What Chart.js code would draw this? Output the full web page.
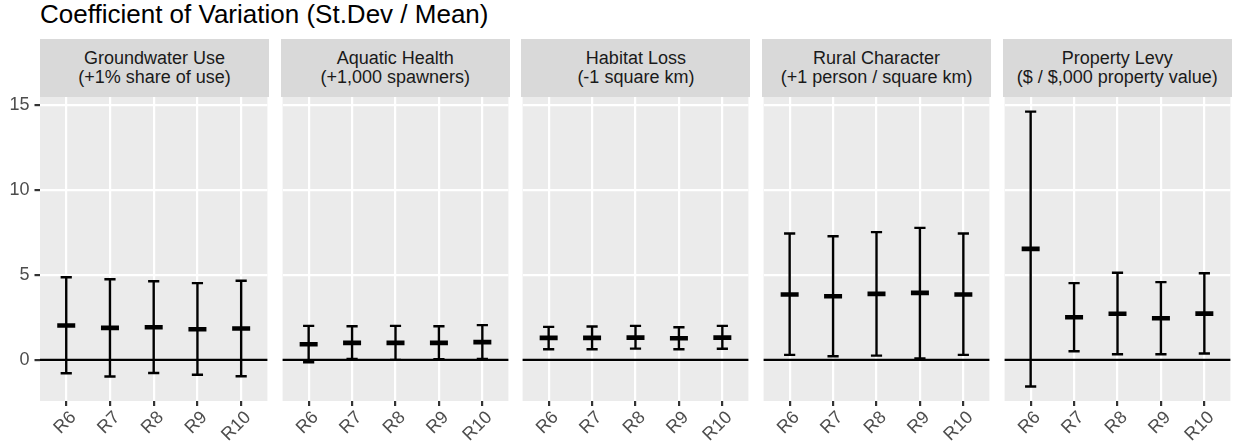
<!DOCTYPE html>
<html>
<head>
<meta charset="utf-8">
<script src="https://cdn.jsdelivr.net/npm/chart.js@4"></script>
<style>
  html, body { margin: 0; padding: 0; background: #ffffff; }
  body { width: 1233px; height: 448px; position: relative; overflow: hidden;
         font-family: "Liberation Sans", Arial, sans-serif; }
  #title { position: absolute; left: 40px; top: 1px; font-size: 26px; line-height: 26px;
           color: #000000; white-space: nowrap; }
  .strip { position: absolute; top: 39px; height: 58px; background: #D9D9D9; color: #1A1A1A;
           font-size: 18px; line-height: 19px; display: flex; align-items: center;
           justify-content: center; text-align: center; white-space: nowrap; }
  .wrap { position: absolute; }
  canvas { display: block; }
</style>
</head>
<body>
<div id="title">Coefficient of Variation (St.Dev / Mean)</div>
<div id="strips"></div>
<div id="charts"></div>
<script>
const categories = ['R6', 'R7', 'R8', 'R9', 'R10'];
const panelTitles = ['Groundwater Use', 'Aquatic Health', 'Habitat Loss', 'Rural Character', 'Property Levy'];
const panelUnits = ['(+1% share of use)', '(+1,000 spawners)', '(-1 square km)', '(+1 person / square km)', '($ / $,000 property value)'];
const yTicks = [0, 5, 10, 15];

const groundwaterMean = [2.02, 1.88, 1.92, 1.80, 1.84];
const groundwaterLow  = [-0.79, -0.98, -0.77, -0.88, -0.96];
const groundwaterHigh = [4.86, 4.74, 4.62, 4.51, 4.65];

const aquaticMean = [0.92, 1.00, 1.00, 1.00, 1.04];
const aquaticLow  = [-0.14, 0.06, 0.00, 0.04, 0.06];
const aquaticHigh = [2.00, 1.98, 2.00, 1.98, 2.04];

const habitatMean = [1.29, 1.29, 1.31, 1.27, 1.31];
const habitatLow  = [0.62, 0.62, 0.66, 0.62, 0.65];
const habitatHigh = [1.94, 1.96, 2.00, 1.92, 2.00];

const ruralMean = [3.84, 3.74, 3.88, 3.94, 3.84];
const ruralLow  = [0.29, 0.21, 0.25, 0.08, 0.29];
const ruralHigh = [7.43, 7.27, 7.51, 7.76, 7.43];

const levyMean = [6.53, 2.51, 2.71, 2.45, 2.72];
const levyLow  = [-1.57, 0.51, 0.33, 0.33, 0.37];
const levyHigh = [14.60, 4.51, 5.12, 4.57, 5.09];

const panelMeans = [groundwaterMean, aquaticMean, habitatMean, ruralMean, levyMean];
const panelLows  = [groundwaterLow, aquaticLow, habitatLow, ruralLow, levyLow];
const panelHighs = [groundwaterHigh, aquaticHigh, habitatHigh, ruralHigh, levyHigh];

Chart.defaults.font.family = '"Liberation Sans", Arial, sans-serif';
Chart.defaults.animation = false;

// layout constants
const PANEL_W = 229;
const PANEL_PITCH = 240.7;
const PANEL_LEFT0 = 40;
const PANEL_TOP = 97;
const PANEL_BOTTOM = 401;
const PAGE_H = 448;
const EXTRA_TOP = 30;
const SIDE_PAD = 12;
const Y_MIN = -2.42, Y_MAX = 15.46;
const X_MIN = -0.6, X_MAX = categories.length - 1 + 0.6;

const bgPlugin = {
  id: 'panelBg',
  beforeDraw(chart) {
    const a = chart.chartArea, ctx = chart.ctx;
    ctx.save();
    ctx.fillStyle = '#EBEBEB';
    ctx.fillRect(a.left, a.top, a.right - a.left, a.bottom - a.top);
    ctx.restore();
  }
};
const zeroLinePlugin = {
  id: 'zeroLine',
  beforeDatasetsDraw(chart) {
    const a = chart.chartArea, ctx = chart.ctx;
    const y = chart.scales.y.getPixelForValue(0);
    ctx.save();
    ctx.strokeStyle = '#000000';
    ctx.lineWidth = 2.2;
    ctx.beginPath();
    ctx.moveTo(a.left, y);
    ctx.lineTo(a.right, y);
    ctx.stroke();
    ctx.restore();
  }
};

const stripsEl = document.getElementById('strips');
const chartsEl = document.getElementById('charts');

for (let p = 0; p < panelTitles.length; p++) {
  const left = PANEL_LEFT0 + p * PANEL_PITCH;
  const strip = document.createElement('div');
  strip.className = 'strip';
  strip.style.left = left + 'px';
  strip.style.width = PANEL_W + 'px';
  strip.innerHTML = '<div>' + panelTitles[p] + '<br>' + panelUnits[p] + '</div>';
  stripsEl.appendChild(strip);

  const first = p === 0;
  const yAxisW = first ? 40 : 0;
  const padLeft = first ? 0 : SIDE_PAD;
  const canvasLeft = left - yAxisW - padLeft;
  const canvasW = yAxisW + padLeft + PANEL_W + SIDE_PAD;
  const canvasTop = PANEL_TOP - EXTRA_TOP;
  const canvasH = PAGE_H - canvasTop;

  const wrap = document.createElement('div');
  wrap.className = 'wrap';
  wrap.style.left = canvasLeft + 'px';
  wrap.style.top = canvasTop + 'px';
  const canvas = document.createElement('canvas');
  canvas.width = Math.round(canvasW);
  canvas.height = canvasH;
  canvas.style.width = Math.round(canvasW) + 'px';
  canvas.style.height = canvasH + 'px';
  wrap.appendChild(canvas);
  chartsEl.appendChild(wrap);

  const means = panelMeans[p], lows = panelLows[p], highs = panelHighs[p];
  const barData = [];
  const capData = [];
  const meanData = [];
  categories.forEach((c, i) => {
    barData.push({x: i, y: lows[i]}, {x: i, y: highs[i]}, {x: i, y: null});
    capData.push({x: i, y: lows[i]}, {x: i, y: highs[i]});
    meanData.push({x: i, y: means[i]});
  });

  new Chart(canvas, {
    type: 'scatter',
    data: {
      datasets: [
        { type: 'scatter', data: meanData, pointStyle: 'line', radius: 9, hoverRadius: 9,
          borderColor: '#000000', backgroundColor: '#000000', borderWidth: 4.6, order: 0 },
        { type: 'scatter', data: capData, pointStyle: 'line', radius: 5.6, hoverRadius: 5.6,
          borderColor: '#000000', backgroundColor: '#000000', borderWidth: 2.4, order: 1 },
        { type: 'line', data: barData, showLine: true, spanGaps: false, pointRadius: 0,
          borderColor: '#000000', borderWidth: 2.4, borderCapStyle: 'butt', order: 2 }
      ]
    },
    options: {
      responsive: false,
      maintainAspectRatio: false,
      animation: false,
      events: [],
      layout: { padding: { top: EXTRA_TOP, left: padLeft, right: SIDE_PAD, bottom: 0 } },
      plugins: { legend: { display: false }, tooltip: { enabled: false }, title: { display: false } },
      scales: {
        x: {
          type: 'linear', min: X_MIN, max: X_MAX, offset: false,
          afterBuildTicks(scale) { scale.ticks = categories.map((c, i) => ({ value: i })); },
          afterFit(scale) { scale.height = PAGE_H - PANEL_BOTTOM; },
          border: { display: false },
          grid: { color: '#FFFFFF', lineWidth: 2.2, drawTicks: true, tickLength: 5,
                  tickColor: '#333333', tickWidth: 2.2 },
          ticks: {
            autoSkip: false, maxRotation: 45, minRotation: 45, padding: 1, labelOffset: 7,
            color: '#4D4D4D', font: { size: 18 },
            callback: (v) => categories[v]
          }
        },
        y: {
          type: 'linear', min: Y_MIN, max: Y_MAX,
          afterBuildTicks(scale) { scale.ticks = yTicks.map(v => ({ value: v })); },
          afterFit(scale) { scale.width = yAxisW; },
          border: { display: false },
          grid: { color: '#FFFFFF', lineWidth: 2.2, drawTicks: first, tickLength: 5.5,
                  tickColor: '#333333', tickWidth: 2.2 },
          ticks: { display: first, padding: 5, color: '#4D4D4D', font: { size: 18 } }
        }
      }
    },
    plugins: [bgPlugin, zeroLinePlugin]
  });
}
</script>
</body>
</html>
